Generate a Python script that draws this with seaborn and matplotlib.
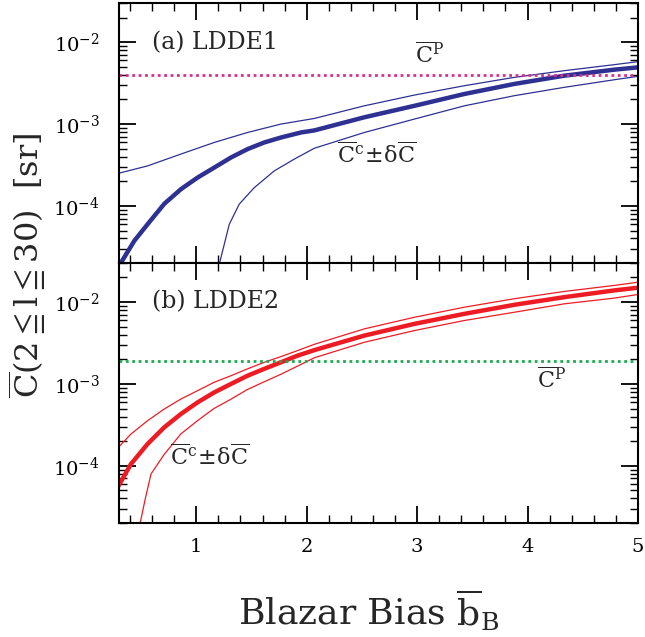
import numpy as np
import pandas as pd
import seaborn as sns
from matplotlib import pyplot as plt
from matplotlib.ticker import MultipleLocator, LogLocator, NullFormatter

# (a) LDDE1
a_mid_x = [0.318, 0.438, 0.559, 0.710, 0.861, 1.012, 1.163, 1.314, 1.464, 1.616,
           1.767, 1.948, 2.069, 2.522, 2.975, 3.428, 3.880, 4.333, 4.786, 5.0]
a_mid_y = [2.02e-5, 3.73e-5, 5.97e-5, 1.06e-4, 1.60e-4, 2.22e-4, 2.94e-4, 3.90e-4,
           4.94e-4, 5.96e-4, 6.85e-4, 7.89e-4, 8.36e-4, 1.21e-3, 1.67e-3, 2.33e-3,
           3.09e-3, 3.90e-3, 4.62e-3, 4.93e-3]
a_hi_x = [0.3, 0.559, 0.861, 1.163, 1.464, 1.767, 2.069, 2.522, 2.975, 3.428,
          3.880, 4.333, 4.786, 5.0]
a_hi_y = [2.51e-4, 3.08e-4, 4.30e-4, 5.96e-4, 7.89e-4, 1.0e-3, 1.17e-3, 1.67e-3,
          2.26e-3, 2.94e-3, 3.72e-3, 4.49e-3, 5.32e-3, 5.79e-3]
a_lo_x = [1.208, 1.299, 1.389, 1.525, 1.707, 1.888, 2.069, 2.522, 2.975, 3.428,
          3.880, 4.333, 4.786, 5.0]
a_lo_y = [1.93e-5, 5.97e-5, 1.05e-4, 1.67e-4, 2.68e-4, 3.73e-4, 5.06e-4, 7.89e-4,
          1.15e-3, 1.67e-3, 2.22e-3, 2.81e-3, 3.48e-3, 3.83e-3]
a_cp = 4.0e-3

# (b) LDDE2
b_mid_x = [0.287, 0.408, 0.559, 0.710, 0.861, 1.012, 1.163, 1.314, 1.464, 1.616,
           1.767, 1.918, 2.069, 2.522, 2.975, 3.428, 3.880, 4.333, 4.786, 5.0]
b_mid_y = [5.42e-5, 1.05e-4, 1.85e-4, 2.95e-4, 4.30e-4, 5.96e-4, 7.89e-4, 1.0e-3,
           1.26e-3, 1.53e-3, 1.84e-3, 2.22e-3, 2.59e-3, 3.90e-3, 5.42e-3, 7.19e-3,
           9.27e-3, 1.15e-2, 1.39e-2, 1.50e-2]
b_hi_x = [0.3, 0.408, 0.559, 0.710, 0.861, 1.012, 1.163, 1.314, 1.464, 1.616,
          1.767, 1.918, 2.069, 2.522, 2.975, 3.428, 3.880, 4.333, 4.786, 5.0]
b_hi_y = [1.71e-4, 2.44e-4, 3.56e-4, 4.94e-4, 6.55e-4, 8.28e-4, 1.05e-3, 1.26e-3,
          1.53e-3, 1.84e-3, 2.16e-3, 2.56e-3, 3.05e-3, 4.71e-3, 6.53e-3, 8.67e-3,
          1.10e-2, 1.35e-2, 1.60e-2, 1.75e-2]
b_lo_x = [0.49, 0.54, 0.59, 0.71, 0.86, 1.01, 1.16, 1.31, 1.46, 1.62, 1.77, 1.92,
          2.07, 2.522, 2.975, 3.428, 3.880, 4.333, 4.786, 5.0]
b_lo_y = [1.95e-5, 4.07e-5, 7.94e-5, 1.38e-4, 2.45e-4, 3.55e-4, 5.01e-4, 6.46e-4,
          8.51e-4, 1.07e-3, 1.32e-3, 1.66e-3, 2.09e-3, 3.23e-3, 4.49e-3, 5.96e-3,
          7.52e-3, 9.53e-3, 1.12e-2, 1.24e-2]
b_cp = 1.9e-3

sns.set_theme(style="ticks")
plt.rcParams["font.family"] = ["DejaVu Serif"]
plt.rcParams["mathtext.fontset"] = "dejavuserif"

blue, red = "#2E3192", "#ED1C24"
magenta, green = "#D6308F", "#1DAA50"

fig, (ax1, ax2) = plt.subplots(2, 1, sharex=True, figsize=(6.45, 6.37), dpi=100)
fig.subplots_adjust(left=0.1845, right=0.989, top=0.995, bottom=0.179, hspace=0)

CP = r"$\overline{\rm C}^{\rm P}$"
CC = r"$\overline{\rm C}^{\rm c}\!\pm\!\delta\overline{\rm C}$"


def band(ax, mx, my, hx, hy, lx, ly, color):
    sns.lineplot(x=mx, y=my, ax=ax, color=color, lw=3.2, estimator=None, sort=False)
    sns.lineplot(x=hx, y=hy, ax=ax, color=color, lw=0.9, estimator=None, sort=False)
    sns.lineplot(x=lx, y=ly, ax=ax, color=color, lw=0.9, estimator=None, sort=False)


band(ax1, a_mid_x, a_mid_y, a_hi_x, a_hi_y, a_lo_x, a_lo_y, blue)
ax1.axhline(a_cp, color=magenta, lw=2.0, ls=(0, (1, 1.3)))
band(ax2, b_mid_x, b_mid_y, b_hi_x, b_hi_y, b_lo_x, b_lo_y, red)
ax2.axhline(b_cp, color=green, lw=2.0, ls=(0, (1, 1.3)))

ax1.text(0.60, 1e-2, "(a) LDDE1", fontsize=17, ha="left", va="center")
ax1.text(3.11, 6.9e-3, CP, fontsize=16, ha="center", va="center")
ax1.text(2.63, 4.1e-4, CC, fontsize=16, ha="center", va="center")
ax2.text(0.60, 1e-2, "(b) LDDE2", fontsize=17, ha="left", va="center")
ax2.text(4.22, 1.1e-3, CP, fontsize=16, ha="center", va="center")
ax2.text(1.12, 1.26e-4, CC, fontsize=16, ha="center", va="center")

for ax in (ax1, ax2):
    ax.set_yscale("log")
    ax.set_ylim(2e-5, 3e-2)
    ax.set_xlim(0.3, 5)
    ax.xaxis.set_major_locator(MultipleLocator(1))
    ax.xaxis.set_minor_locator(MultipleLocator(0.2))
    ax.yaxis.set_minor_locator(LogLocator(base=10, subs=np.arange(2, 10)))
    ax.yaxis.set_minor_formatter(NullFormatter())
    ax.tick_params(which="both", direction="in", top=True, right=True,
                   labelsize=14, color="black", labelcolor="black")
    ax.tick_params(which="major", length=12, width=1.3)
    ax.tick_params(which="minor", length=6, width=1.0)
    ax.tick_params(axis="y", pad=14)
    ax.tick_params(axis="x", pad=11)
    ax.set(xlabel="", ylabel="")
    for s in ax.spines.values():
        s.set_linewidth(1.5)
        s.set_color("black")

fig.text(0.042, 0.584, r"$\overline{\rm C}$(2$\leqq$l$\leqq$30)  [sr]",
         rotation=90, fontsize=23, ha="center", va="center")
fig.text(0.571, 0.042, r"Blazar Bias $\overline{\rm b}_{\rm B}$",
         fontsize=26, ha="center", va="center")

fig.savefig("out.png", dpi=100)
